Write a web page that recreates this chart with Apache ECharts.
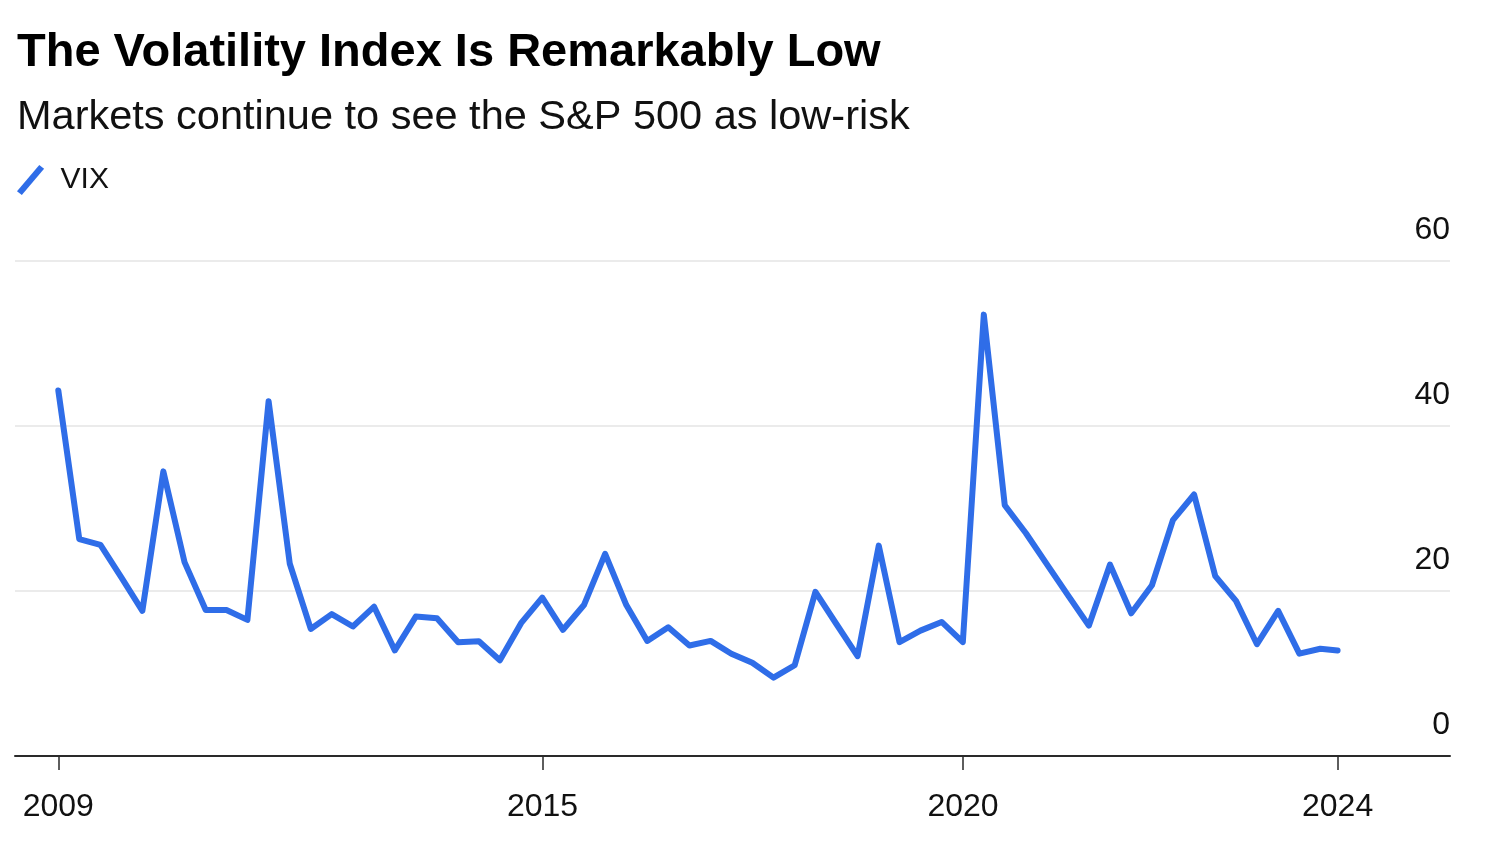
<!DOCTYPE html>
<html>
<head>
<meta charset="utf-8">
<script src="https://cdn.jsdelivr.net/npm/echarts@6/dist/echarts.min.js"></script>
<style>
html,body{margin:0;padding:0;background:#fff;}
#chart{width:1500px;height:850px;}
</style>
</head>
<body>
<div id="chart"></div>
<script>
// Quarter-end observation dates (plus the latest reading)
const dates = [
  '2009-03-31','2009-06-30','2009-09-30','2009-12-31',
  '2010-03-31','2010-06-30','2010-09-30','2010-12-31',
  '2011-03-31','2011-06-30','2011-09-30','2011-12-31',
  '2012-03-31','2012-06-30','2012-09-30','2012-12-31',
  '2013-03-31','2013-06-30','2013-09-30','2013-12-31',
  '2014-03-31','2014-06-30','2014-09-30','2014-12-31',
  '2015-03-31','2015-06-30','2015-09-30','2015-12-31',
  '2016-03-31','2016-06-30','2016-09-30','2016-12-31',
  '2017-03-31','2017-06-30','2017-09-30','2017-12-31',
  '2018-03-31','2018-06-30','2018-09-30','2018-12-31',
  '2019-03-31','2019-06-30','2019-09-30','2019-12-31',
  '2020-03-31','2020-06-30','2020-09-30','2020-12-31',
  '2021-03-31','2021-06-30','2021-09-30','2021-12-31',
  '2022-03-31','2022-06-30','2022-09-30','2022-12-31',
  '2023-03-31','2023-06-30','2023-09-30','2023-12-31',
  '2024-03-31','2024-06-14'
];
// VIX values
const vix = [
  44.3, 26.3, 25.6, 21.6,
  17.6, 34.5, 23.5, 17.7,
  17.7, 16.5, 43.0, 23.3,
  15.4, 17.2, 15.7, 18.1,
  12.8, 16.9, 16.7, 13.8,
  13.9, 11.6, 16.1, 19.2,
  15.3, 18.3, 24.5, 18.3,
  13.95, 15.6, 13.4, 13.95,
  12.4, 11.3, 9.5, 11.0,
  19.9, 16.0, 12.1, 25.5,
  13.8, 15.2, 16.25, 13.8,
  53.5, 30.4, 27.0, 23.2,
  19.5, 15.8, 23.2, 17.3,
  20.7, 28.6, 31.7, 21.8,
  18.8, 13.55, 17.6, 12.4,
  13.0, 12.8
];
// x-axis tick dates and their labels
const xTickDates = ['2009-03-31','2015-01-01','2020-01-01','2024-06-14'];
const xTickLabels = ['2009','2015','2020','2024'];
const xRange = ['2008-09-24', '2025-10-15'];
// y-axis ticks
const yTicks = [0, 20, 40, 60];

const ts = d => Date.parse(d + 'T00:00:00Z');
const seriesData = dates.map((d, i) => [ts(d), vix[i]]);
const tickTs = xTickDates.map(ts);

const FONT = 'Liberation Sans, Arial, sans-serif';
const chart = echarts.init(document.getElementById('chart'), null, {renderer: 'canvas'});
chart.setOption({
  animation: false,
  backgroundColor: '#ffffff',
  textStyle: {fontFamily: FONT},
  title: [
    {
      text: 'The Volatility Index Is Remarkably Low',
      left: 12, top: 25,
      textStyle: {fontSize: 47, fontWeight: 'bold', color: '#000', fontFamily: FONT}
    },
    {
      text: 'Markets continue to see the S&P 500 as low-risk',
      left: 12, top: 92,
      textStyle: {fontSize: 41.5, fontWeight: 'normal', color: '#111', fontFamily: FONT}
    }
  ],
  legend: {
    left: 12, top: 160,
    data: ['VIX'],
    icon: 'path://M0,27 L23,0 L28,4 L5,31 Z',
    itemWidth: 32, itemHeight: 30,
    textStyle: {fontSize: 30, color: '#111', padding: [0, 0, 0, 9], fontFamily: FONT}
  },
  grid: {left: 15, right: 50, top: 261, bottom: 94, containLabel: false},
  xAxis: {
    type: 'value',
    min: ts(xRange[0]),
    max: ts(xRange[1]),
    axisLine: {show: true, onZero: false, lineStyle: {color: '#2a2a2a', width: 2}},
    axisTick: {show: true, length: 14, lineStyle: {color: '#2a2a2a', width: 1.5}, customValues: tickTs},
    axisLabel: {
      customValues: tickTs,
      fontSize: 32, color: '#111', margin: 35,
      fontFamily: FONT,
      formatter: function (v) {
        let best = 0, bd = Infinity;
        tickTs.forEach((t, i) => { const d = Math.abs(t - v); if (d < bd) { bd = d; best = i; } });
        return xTickLabels[best];
      }
    },
    splitLine: {show: false}
  },
  yAxis: {
    type: 'value',
    position: 'right',
    min: yTicks[0], max: yTicks[yTicks.length - 1], interval: 20,
    axisLine: {show: false},
    axisTick: {show: false},
    axisLabel: {
      inside: true, margin: 0, fontSize: 32, color: '#111',
      verticalAlign: 'bottom', padding: [0, 0, 15, 0],
      fontFamily: FONT
    },
    splitLine: {show: true, lineStyle: {color: '#ebebeb', width: 2}}
  },
  series: [{
    name: 'VIX',
    type: 'line',
    data: seriesData,
    showSymbol: false,
    symbol: 'none',
    itemStyle: {color: '#2f6de8'},
    lineStyle: {color: '#2f6de8', width: 6, join: 'round', cap: 'round'},
    z: 3
  }]
});
</script>
</body>
</html>
